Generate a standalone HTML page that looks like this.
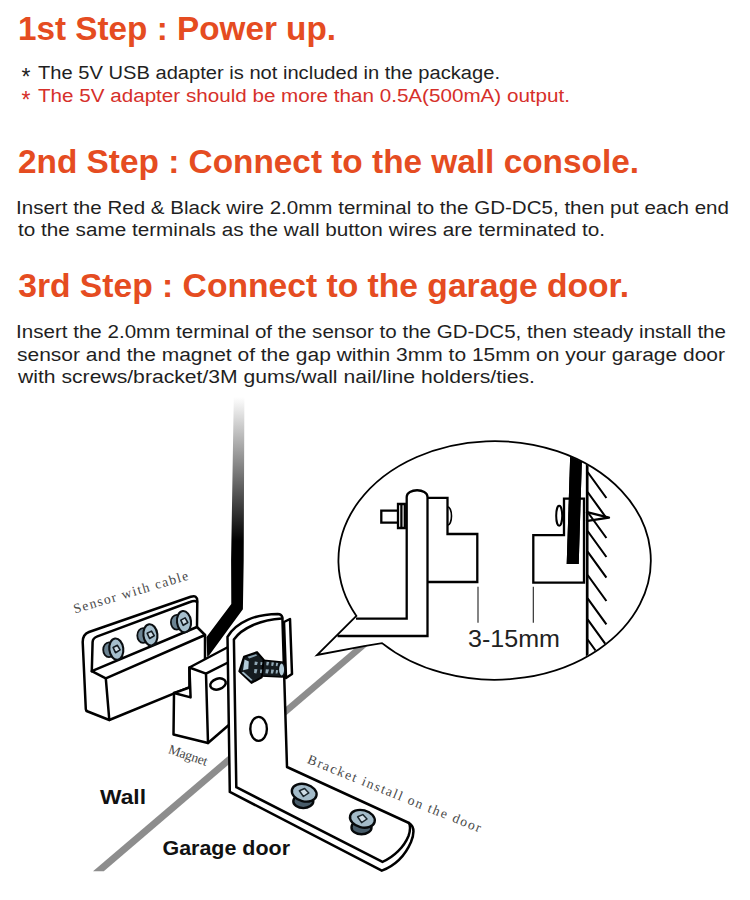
<!DOCTYPE html>
<html>
<head>
<meta charset="utf-8">
<title>GD-DC5 install steps</title>
<style>
html,body{margin:0;padding:0;background:#fff;}
body{width:750px;height:900px;overflow:hidden;position:relative;font-family:"Liberation Sans",sans-serif;}
svg{position:absolute;left:0;top:0;display:block;}
.h{font-family:"Liberation Sans",sans-serif;font-weight:bold;font-size:34px;fill:#e54c21;}
.b{font-family:"Liberation Sans",sans-serif;font-size:19.2px;fill:#1f1f1f;}
.r{fill:#d6302a;}
.lb{font-family:"Liberation Sans",sans-serif;font-weight:bold;fill:#111;}
.sm{font-family:"Liberation Serif",serif;font-size:13.6px;fill:#484848;}
.k{fill:#fff;stroke:#000;stroke-width:2.5;stroke-linejoin:round;stroke-linecap:round;}
.l{fill:none;stroke:#000;stroke-width:2.5;stroke-linejoin:round;stroke-linecap:round;}
.t{fill:none;stroke:#000;stroke-width:2.3;stroke-linejoin:miter;stroke-linecap:butt;}
</style>
</head>
<body>
<svg width="750" height="900" viewBox="0 0 750 900">
<defs>
  <linearGradient id="cg" x1="0" y1="397" x2="0" y2="541" gradientUnits="userSpaceOnUse">
    <stop offset="0" stop-color="#fff"/>
    <stop offset="1" stop-color="#000"/>
  </linearGradient>
  <clipPath id="bc"><ellipse cx="494.5" cy="560.3" rx="155.6" ry="118.7"/></clipPath>

  
  
</defs>

<!-- ===== TEXT ===== -->
<g id="text">
<text class="h" x="18" y="40.4" textLength="318" lengthAdjust="spacingAndGlyphs">1st Step : Power up.</text>
<text class="b" x="21.5" y="85" style="font-size:23px">*</text>
<text class="b" x="38" y="78.9" textLength="462" lengthAdjust="spacingAndGlyphs">The 5V USB adapter is not included in the package.</text>
<text class="b r" x="21.5" y="107.6" style="font-size:23px">*</text>
<text class="b r" x="38" y="101.5" textLength="532" lengthAdjust="spacingAndGlyphs">The 5V adapter should be more than 0.5A(500mA) output.</text>
<text class="h" x="18" y="172.9" textLength="621" lengthAdjust="spacingAndGlyphs">2nd Step : Connect to the wall console.</text>
<text class="b" x="16" y="214.1" textLength="713" lengthAdjust="spacingAndGlyphs">Insert the Red &amp; Black wire 2.0mm terminal to the GD-DC5, then put each end</text>
<text class="b" x="18" y="236.1" textLength="587" lengthAdjust="spacingAndGlyphs">to the same terminals as the wall button wires are terminated to.</text>
<text class="h" x="18.2" y="297.4" textLength="611" lengthAdjust="spacingAndGlyphs">3rd Step : Connect to the garage door.</text>
<text class="b" x="16" y="338.2" textLength="710" lengthAdjust="spacingAndGlyphs">Insert the 2.0mm terminal of the sensor to the GD-DC5, then steady install the</text>
<text class="b" x="17" y="360.8" textLength="708" lengthAdjust="spacingAndGlyphs">sensor and the magnet of the gap within 3mm to 15mm on your garage door</text>
<text class="b" x="18" y="383" textLength="517" lengthAdjust="spacingAndGlyphs">with screws/bracket/3M gums/wall nail/line holders/ties.</text>
</g>

<!-- ===== DIAGRAM ===== -->
<g id="diagram">
<!-- gray wall/door junction line -->
<polygon points="93,871.2 103.8,871.2 367.3,646 357.3,646" fill="#8d8d8d"/>

<!-- sensor -->
<g id="sensor">
<path class="k" d="M85.8,709 L82.7,642 Q82.6,634.5 89,632 L190.7,596.8 Q197.3,594.6 197.3,601 L197,627 L205,635 L205,680 L190.7,686.7 L109.3,720 L86.5,711 Z"/>
<path class="l" d="M91.8,671.2 L92.6,642 Q92.8,638 97.4,636.3 L190,602 Q195,600 197,602"/>
<path class="l" d="M91.8,671.2 L197,627 M105.8,678.3 L205,635 M91.8,671.2 L105.8,678.3 L109.3,720"/>
<g transform="translate(116.3,649.1)"><ellipse cx="-7.3" cy="0.6" rx="5.8" ry="7.4" fill="#6b8392" stroke="#0b0f12" stroke-width="1.8"/>
    <ellipse cx="0" cy="0" rx="7" ry="10.7" transform="rotate(-7)" fill="#a6bfcd" stroke="#0b0f12" stroke-width="2.1"/>
    <path d="M-3.2,-1.6 L1.1,-3.8 L3.8,0.8 L-0.8,3.6 Z" fill="#cfdde6" stroke="#141c22" stroke-width="1.6" stroke-linejoin="round"/></g><g transform="translate(150.4,634.9)"><ellipse cx="-7.3" cy="0.6" rx="5.8" ry="7.4" fill="#6b8392" stroke="#0b0f12" stroke-width="1.8"/>
    <ellipse cx="0" cy="0" rx="7" ry="10.7" transform="rotate(-7)" fill="#a6bfcd" stroke="#0b0f12" stroke-width="2.1"/>
    <path d="M-3.2,-1.6 L1.1,-3.8 L3.8,0.8 L-0.8,3.6 Z" fill="#cfdde6" stroke="#141c22" stroke-width="1.6" stroke-linejoin="round"/></g><g transform="translate(184,621.7)"><ellipse cx="-7.3" cy="0.6" rx="5.8" ry="7.4" fill="#6b8392" stroke="#0b0f12" stroke-width="1.8"/>
    <ellipse cx="0" cy="0" rx="7" ry="10.7" transform="rotate(-7)" fill="#a6bfcd" stroke="#0b0f12" stroke-width="2.1"/>
    <path d="M-3.2,-1.6 L1.1,-3.8 L3.8,0.8 L-0.8,3.6 Z" fill="#cfdde6" stroke="#141c22" stroke-width="1.6" stroke-linejoin="round"/></g>
</g>

<!-- cable -->
<path d="M233.8,396 L244.4,396 L243.7,560 L242.9,609.2 L209.4,655 L207.2,657 L206.5,637 L231.3,604 L231.1,560 Z" fill="url(#cg)"/>

<!-- magnet -->
<g id="magnet">
<path class="k" d="M189.4,667.5 L230,646 L230,724 L208,743 L173.5,734.5 L174,693 L189.4,687.6 Z"/>
<path class="l" d="M189.4,667.5 L206,673.6 L230,661.5 M206,673.6 L208,743 M189.4,667.5 L190.6,697.4 L174,693"/>
<ellipse class="k" cx="218" cy="684" rx="8" ry="5.3" transform="rotate(-18 218 684)"/>
</g>

<!-- bracket -->
<g id="bracket">
<path class="k" d="M284,622 L290,619 L292,674 L286,678 Z"/>
<path class="k" d="M229.8,791.9 L227.5,636.8 C236,622 256,614 277.6,613.9 Q281.8,614 282.4,617.5 L287,767 L409,823 C414,826 415,832 411,842 C405,856 394,866 381.8,870.7 Z"/>
<path class="l" d="M236.3,787.2 L233.9,639.5 C242,628 260,620 282,618.6 M236.3,787.2 L382.5,861.9 C394,857 404,847 408.5,836 C410.5,830 410.5,826 409,823"/>
<ellipse class="k" cx="258.6" cy="728.9" rx="8.3" ry="12" style="stroke-width:2.4"/>
<g id="bolt">
<path d="M261,660 L284,662.3 L282.5,677 L261,676 Z" fill="#151c20" stroke="#000" stroke-width="1.6" stroke-linejoin="round"/>
<ellipse cx="281.6" cy="669.5" rx="3.2" ry="6.6" fill="#b4ccd9" stroke="#0b0f12" stroke-width="1.4"/>
<path d="M266.6,661.8 l2.6,0.3 l-1,3.4 l-2,-0.2 z M271.6,662.3 l2.4,0.3 l-0.9,3.3 l-1.9,-0.2 z M276.2,662.8 l2,0.2 l-0.8,3.2 l-1.6,-0.2 z M265.8,669.2 l3.2,0.2 l-1.2,4 l-2.4,-0.2 z M271.2,669.6 l2.8,0.2 l-1,3.8 l-2.2,-0.2 z M276,670 l2.2,0.2 l-0.8,3.4 l-1.8,-0.1 z" fill="#93abb8"/>
<path d="M239.3,671.3 L244,656.8 L257,652.1 L263.6,659.6 L261.7,677.3 L251.5,682.9 Z" fill="#151c20" stroke="#000" stroke-width="2" stroke-linejoin="round"/>
<path d="M244.6,659.6 L248.8,661.6 L248.3,669 L243,670.2 Z" fill="#b4ccd9"/>
<path d="M247.5,656.8 L256,654.2 L257.2,655.6 L249.2,658.4 Z" fill="#8aa3b1"/>
<path d="M241.5,672.6 L251,680.8 L252.6,680 L243.5,671.8 Z" fill="#9fb8c6"/>
<path d="M254.8,661.6 l3,0.3 l-0.8,3.2 l-2.6,-0.2 z M254.4,669 l3,0.2 l-1,4.2 l-2.4,-0.4 z M260.6,662 l1.8,0.2 l-0.4,2.8 l-1.6,-0.1 z M260.2,669.4 l2,0.2 l-0.6,3.6 l-1.6,-0.2 z" fill="#8fa7b4"/>
</g>
<g transform="translate(304.2,792.7)"><ellipse cx="-0.9" cy="8.6" rx="10" ry="6.8" fill="#485c6a" stroke="#06090b" stroke-width="2.4"/>
    <ellipse cx="0" cy="0" rx="12.6" ry="8.6" transform="rotate(14)" fill="#a3bbc9" stroke="#06090b" stroke-width="2.4"/>
    <path d="M-4.8,-2 L0.4,-4.2 L4.6,0.2 L-0.8,3.8 Z" fill="#cfdde6" stroke="#1b262d" stroke-width="1.5" stroke-linejoin="round"/></g><g transform="translate(362.4,818.8)"><ellipse cx="-0.9" cy="8.6" rx="10" ry="6.8" fill="#485c6a" stroke="#06090b" stroke-width="2.4"/>
    <ellipse cx="0" cy="0" rx="12.6" ry="8.6" transform="rotate(14)" fill="#a3bbc9" stroke="#06090b" stroke-width="2.4"/>
    <path d="M-4.8,-2 L0.4,-4.2 L4.6,0.2 L-0.8,3.8 Z" fill="#cfdde6" stroke="#1b262d" stroke-width="1.5" stroke-linejoin="round"/></g>
</g>

<!-- speech bubble -->
<g id="bubble">
<path d="M356.4,616 A156.2,119.3 0 1 1 382,643.1 L364,646.2 L317,655 Z" fill="#fff" stroke="#000" stroke-width="1.8" stroke-linejoin="miter"/>
<g clip-path="url(#bc)">
  <!-- wall -->
  <path class="t" style="stroke-width:2.7" d="M587.2,440 L587.2,680"/>
  <path class="t" style="stroke-width:2.1" d="M587.6,472 l18.8,26 M587.6,492 l18.8,26 M587.6,512 l18.8,26 M587.6,531 l18.8,26 M587.6,551.7 l18.8,26 M587.6,575 l18.8,26 M587.6,598.3 l18.8,26 M587.6,619.3 l18.8,26 M587.6,639.5 l18.8,26 M587.6,659 l18.8,26"/>
  <!-- cable in bubble -->
  <polygon points="570.7,440 582.5,440 578.7,564 566.7,564" fill="#000"/>
</g>
<!-- L bracket cross-section -->
<path class="t" d="M406.7,497 L406.7,618.7 L356,618.7 M337.5,636 L427.5,636 L427.5,497 C427.5,488 406.7,488 406.7,497"/>
<!-- bolt -->
<path class="t" d="M398,510.7 L381.3,510.7 L381.3,522.7 L398,522.7 M398,504 H404.8 V528 H398 Z M401.4,504 V528"/>
<!-- magnet block -->
<path class="t" d="M427.5,497.9 L447.5,497.9 L447.5,534 L477.3,534 L477.3,582 L427.5,582"/>
<path class="t" style="stroke-width:1.6" d="M447.5,506.7 A4,9.3 0 0 1 447.5,525.3"/>
<!-- sensor block -->
<path class="t" d="M533.3,535.2 L564,535.2 L564,498.7 L584,498.7 L584,582.7 L533.3,582.7 Z"/>
<ellipse cx="559.2" cy="515.8" rx="3" ry="10" fill="#fff" stroke="#000" stroke-width="2"/>
<!-- redraw cable over sensor -->
<g clip-path="url(#bc)"><polygon points="570.7,440 582.5,440 578.7,564 566.7,564" fill="#000"/></g>
<!-- screw tip -->
<path d="M586,511.8 L609,517.6 L586,521.2" fill="none" stroke="#000" stroke-width="2.3" stroke-linejoin="round"/>
<!-- dimension lines -->
<path d="M478,586.7 V622.7 M533.3,586.7 V622.7" stroke="#222" stroke-width="1.1" fill="none"/>
<text x="468" y="647" font-family="Liberation Sans, sans-serif" font-size="23" fill="#222" textLength="92" lengthAdjust="spacingAndGlyphs">3-15mm</text>
</g>

<!-- labels -->
<text class="lb" x="100" y="804" font-size="20.5" textLength="46" lengthAdjust="spacingAndGlyphs">Wall</text>
<text class="lb" x="162.5" y="855" font-size="21" textLength="127.5" lengthAdjust="spacingAndGlyphs">Garage door</text>
<text class="sm" transform="translate(75,613.5) rotate(-16.6)" textLength="119" lengthAdjust="spacing">Sensor with cable</text>
<text class="sm" transform="translate(167.5,753) rotate(18.5)" textLength="40.5" lengthAdjust="spacing">Magnet</text>
<text class="sm" transform="translate(306.5,762.8) rotate(22)" textLength="186" lengthAdjust="spacing">Bracket install on the door</text>
</g>
</svg>
</body>
</html>
